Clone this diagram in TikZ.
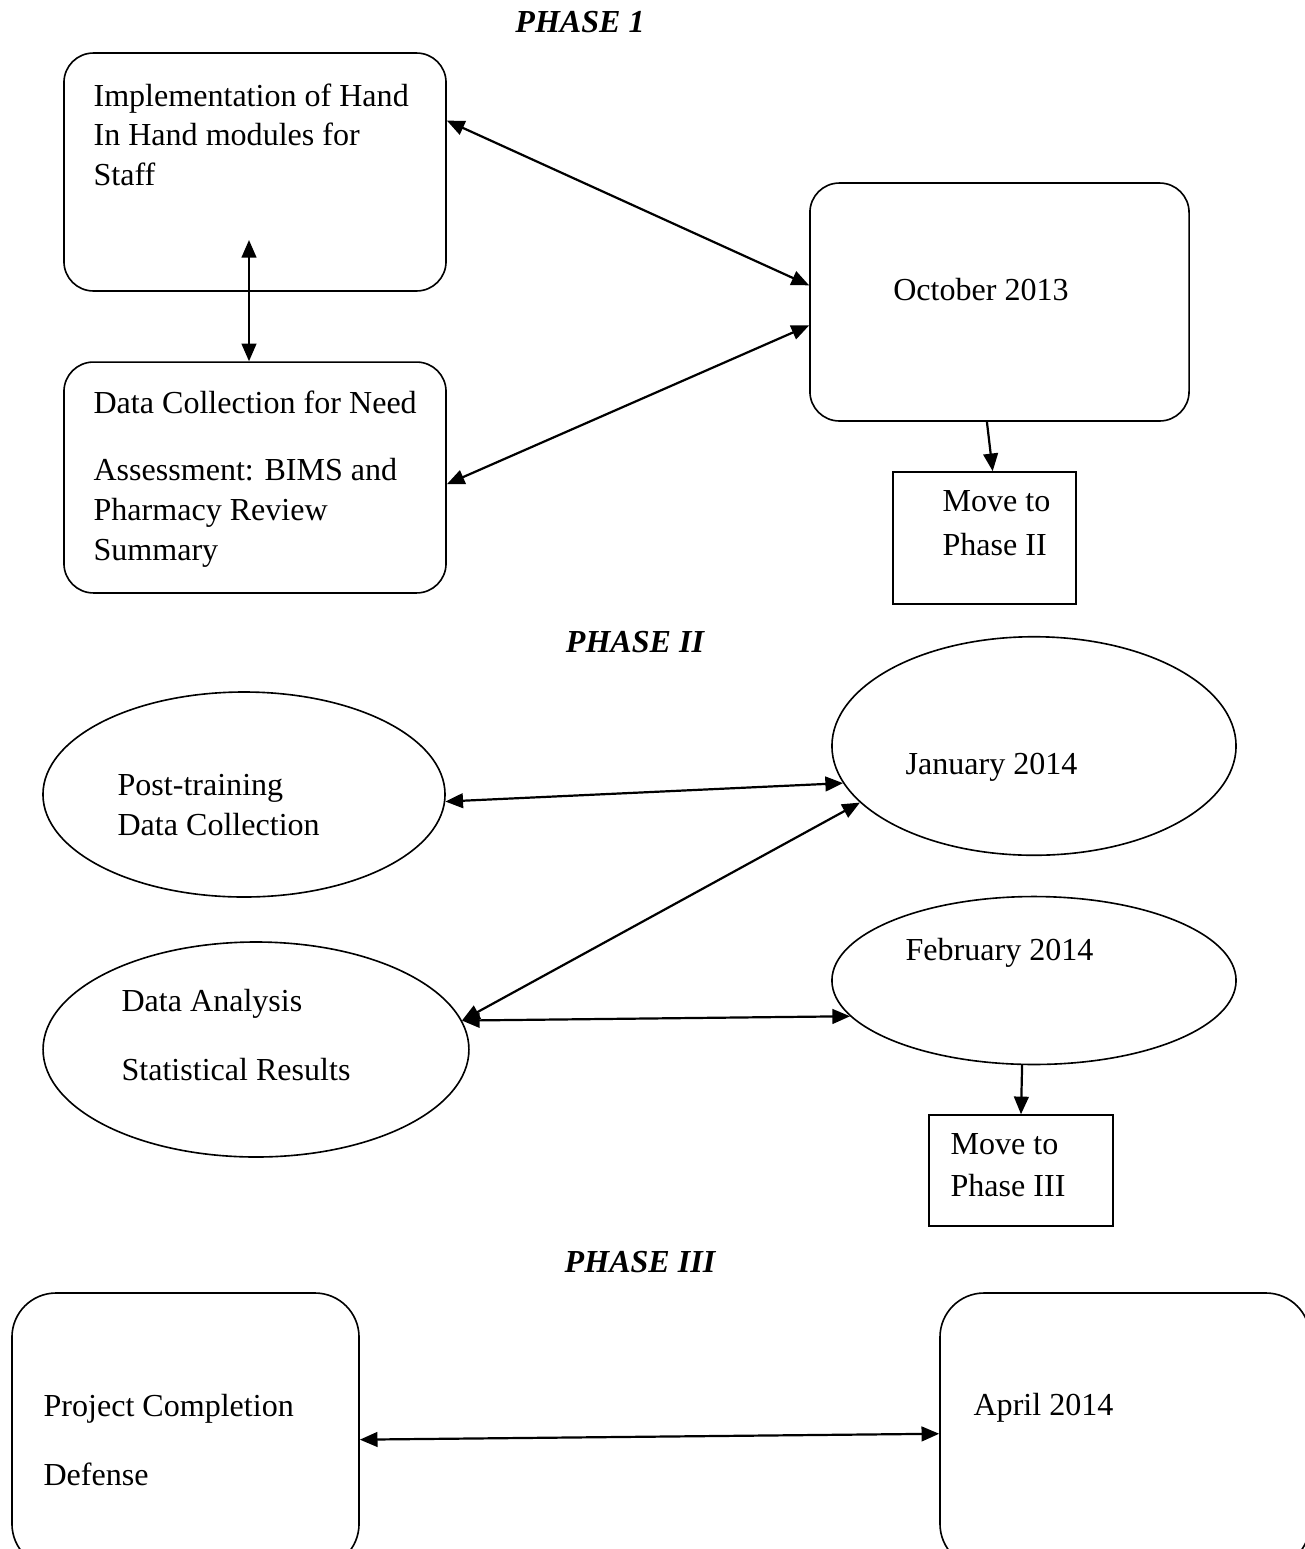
\documentclass[tikz,border=0pt]{standalone}
\usepackage{fontspec}
\setmainfont{Liberation Serif}
\usepackage{tikz}
\usetikzlibrary{arrows.meta, shapes.geometric}

\begin{document}
\begin{tikzpicture}[x=0.34pt, y=-0.34pt,
  every node/.style={font=\fontsize{10.9}{13.5}\selectfont},
  roundbox/.style={draw, rounded corners=10pt, inner sep=0pt, line width=0.55pt},
  plainbox/.style={draw, inner sep=0pt, line width=0.55pt},
  oval/.style={draw, ellipse, inner sep=0pt, line width=0.55pt},
  lbl/.style={anchor=north west, inner sep=0pt, align=left},
  phase/.style={font=\fontsize{10.9}{13.5}\selectfont\bfseries\itshape},
  link/.style={line width=0.75pt, >={Triangle[length=6pt, width=5pt]}}]
\useasboundingbox (0,0) rectangle (1305,1549);
\clip (0,0) rectangle (1305,1549);

\node[phase] (p1) at (580,22) {PHASE 1};
\node[roundbox, minimum width=129.9pt, minimum height=80.9pt] (impl) at (255,172) {};
\node[roundbox, minimum width=129.9pt, minimum height=78.5pt] (need) at (255,477.5) {};
\node[roundbox, minimum width=128.9pt, minimum height=80.9pt] (oct) at (999.5,302) {};
\node[plainbox, minimum width=62.2pt, minimum height=44.9pt] (move2) at (984.5,538) {};
\node[lbl] (impltxt) at (93,83) {Implementation of Hand\\In Hand modules for\\Staff};
\node[lbl] (needtxt) at (93,390) {Data Collection for Need\\[9.5pt]Assessment: BIMS and\\Pharmacy Review\\Summary};
\node (octtxt) at (981,290) {October 2013};
\node[lbl] (move2txt) at (942,490) {Move to\\[1.5pt]Phase II};
\coordinate (inimpl) at (249,240);
\draw[link, <->] (impl.15) -- (oct.175.5);
\draw[link, <->] (need.-2) -- (oct.187.5);
\draw[link, <->] (inimpl) -- (inimpl |- need.north);
\draw[link, ->] (oct.264) -- (move2.83);

\node[phase] (p2) at (635,642) {PHASE II};
\node[oval, minimum width=136.7pt, minimum height=69.7pt] (post) at (244,794.5) {};
\node[oval, minimum width=137.4pt, minimum height=74.3pt] (jan) at (1034,746) {};
\node[oval, minimum width=144.8pt, minimum height=73.1pt] (anal) at (256,1049.5) {};
\node[oval, minimum width=137.4pt, minimum height=57.1pt] (feb) at (1034,980.5) {};
\node[plainbox, minimum width=62.6pt, minimum height=37.7pt] (move3) at (1021,1170.5) {};
\node[lbl] (posttxt) at (117,774) {Post-training\\Data Collection};
\node[lbl] (jantxt) at (905,753) {January 2014};
\node[lbl] (analtxt) at (121,989) {Data Analysis\\[9.7pt]Statistical Results};
\node[lbl] (febtxt) at (905,938) {February 2014};
\node[lbl] (move3txt) at (950,1133) {Move to\\[0.8pt]Phase III};
\draw[link, <->] (post.-2) -- (jan.191);
\draw[link, <->] (anal.8) -- (jan.198);
\draw[link, <->] (anal.8) -- (feb.191);
\draw[link, ->] (feb.262) -- (move3.north);

\node[phase] (p3) at (640,1262) {PHASE III};
\node[roundbox, rounded corners=15pt, minimum width=118pt, minimum height=93.5pt] (proj) at (185.5,1430.5) {};
\node[roundbox, rounded corners=15pt, minimum width=125.8pt, minimum height=93.5pt] (apr) at (1125,1430.5) {};
\node[lbl] (projtxt) at (43,1394) {Project Completion\\[9.7pt]Defense};
\node[lbl] (aprtxt) at (973,1393) {April 2014};
\draw[link, <->] (proj.-3) -- (apr.181);
\end{tikzpicture}
\end{document}
